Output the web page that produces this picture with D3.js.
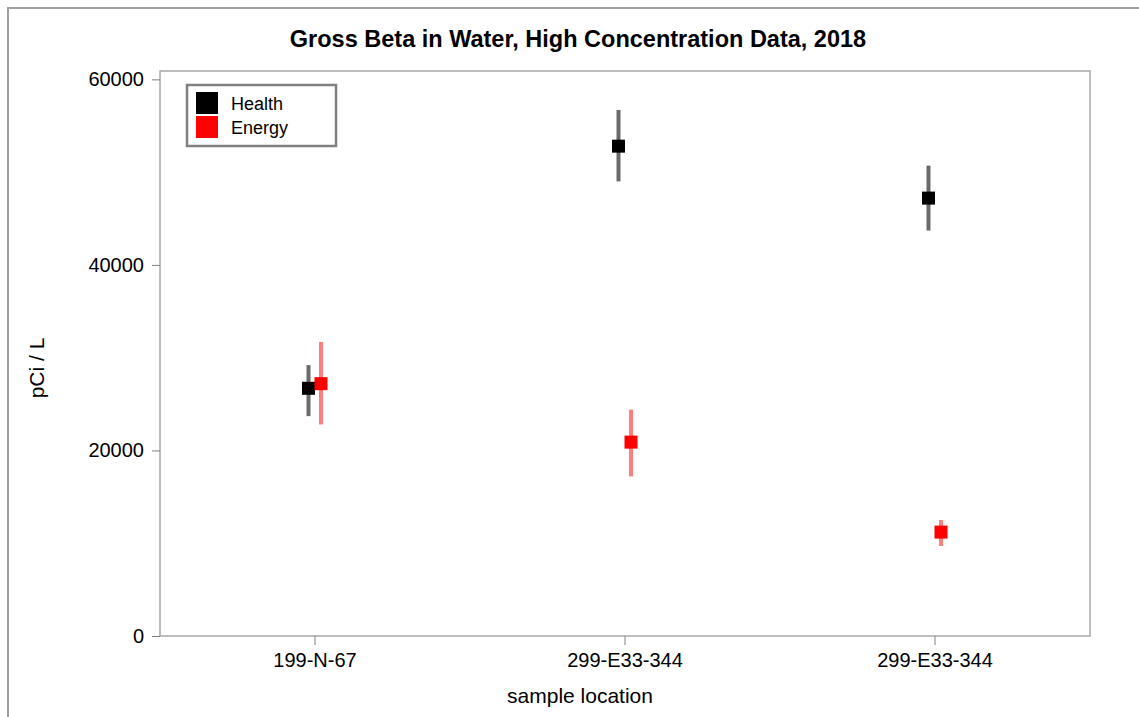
<!DOCTYPE html>
<html><head><meta charset="utf-8">
<script src="https://cdn.jsdelivr.net/npm/d3@7"></script>
<style>body{margin:0;background:#fff;}svg{display:block;font-family:"Liberation Sans",Arial,sans-serif;}</style>
</head><body>
<script>
const categories = ["199-N-67", "299-E33-344", "299-E33-344"];
const seriesNames = ["Health", "Energy"];
const seriesColors = ["#000000", "#ff0000"];
const barColors = ["#6a6a6a", "#ff7f7f"];
const healthValues = [26700, 52800, 47200];
const healthLow = [23700, 49000, 43700];
const healthHigh = [29200, 56700, 50700];
const energyValues = [27200, 20900, 11200];
const energyLow = [22800, 17200, 9700];
const energyHigh = [31700, 24400, 12500];
const yTicks = [0, 20000, 40000, 60000];

const W = 1139, H = 717;
const m = {left: 160, right: 1090, top: 71, bottom: 636};
const svg = d3.select("body").append("svg").attr("width", W).attr("height", H);

// outer frame
svg.append("path").attr("d", `M8,${H} L8,8 L${W},8`).attr("fill","none").attr("stroke","#a0a0a0").attr("stroke-width",2);

const x = d3.scaleBand().domain(d3.range(categories.length)).range([m.left, m.right]);
const y = d3.scaleLinear().domain([0, 60900]).range([m.bottom, m.top]);

// plot frame
svg.append("rect").attr("x", m.left).attr("y", m.top).attr("width", m.right - m.left).attr("height", m.bottom - m.top)
  .attr("fill","none").attr("stroke","#a8a8a8").attr("stroke-width",1.5);

// y axis
const yAxis = svg.append("g").attr("transform", `translate(${m.left},0)`)
  .call(d3.axisLeft(y).tickValues(yTicks).tickFormat(d3.format("d")).tickSize(8).tickPadding(8));
yAxis.select(".domain").remove();
yAxis.selectAll("line").attr("stroke","#808080");
yAxis.selectAll("text").attr("font-size",20).attr("fill","#000").attr("font-family","Liberation Sans, Arial, sans-serif");

// x axis
const xAxis = svg.append("g").attr("transform", `translate(0,${m.bottom})`)
  .call(d3.axisBottom(x).tickFormat(i => categories[i]).tickSize(9).tickPadding(8));
xAxis.select(".domain").remove();
xAxis.selectAll("line").attr("stroke","#808080");
xAxis.selectAll("text").attr("font-size",20).attr("fill","#000").attr("font-family","Liberation Sans, Arial, sans-serif");

// title & labels
svg.append("text").attr("x", 578).attr("y", 47).attr("text-anchor","middle").attr("font-size",23.5).attr("font-weight","bold").text("Gross Beta in Water, High Concentration Data, 2018");
svg.append("text").attr("x", 580).attr("y", 703).attr("text-anchor","middle").attr("font-size",21).text("sample location");
svg.append("text").attr("transform","translate(44,368) rotate(-90)").attr("text-anchor","middle").attr("font-size",21).text("pCi / L");

const series = [
  {name: seriesNames[0], vals: healthValues, lo: healthLow, hi: healthHigh, off: -6.5},
  {name: seriesNames[1], vals: energyValues, lo: energyLow, hi: energyHigh, off: 6}
];
series.forEach((s, si) => {
  const g = svg.append("g");
  const cx = i => x(i) + x.bandwidth() / 2 + s.off;
  g.selectAll("line").data(s.vals).join("line")
    .attr("x1", (d,i) => cx(i)).attr("x2", (d,i) => cx(i))
    .attr("y1", (d,i) => y(s.lo[i])).attr("y2", (d,i) => y(s.hi[i]))
    .attr("stroke", barColors[si]).attr("stroke-width", 4);
  g.selectAll("rect").data(s.vals).join("rect")
    .attr("x", (d,i) => cx(i) - 6.5).attr("y", d => y(d) - 6.5)
    .attr("width", 13).attr("height", 13).attr("fill", seriesColors[si]);
});

// legend
const lg = svg.append("g");
lg.append("rect").attr("x",187).attr("y",85).attr("width",149).attr("height",61).attr("fill","#fff").attr("stroke","#808080").attr("stroke-width",2.5);
seriesNames.forEach((n, i) => {
  lg.append("rect").attr("x",196).attr("y",92 + i*24).attr("width",22).attr("height",22).attr("fill",seriesColors[i]);
  lg.append("text").attr("x",231).attr("y",110 + i*24).attr("font-size",18).text(n);
});
</script>
</body></html>
